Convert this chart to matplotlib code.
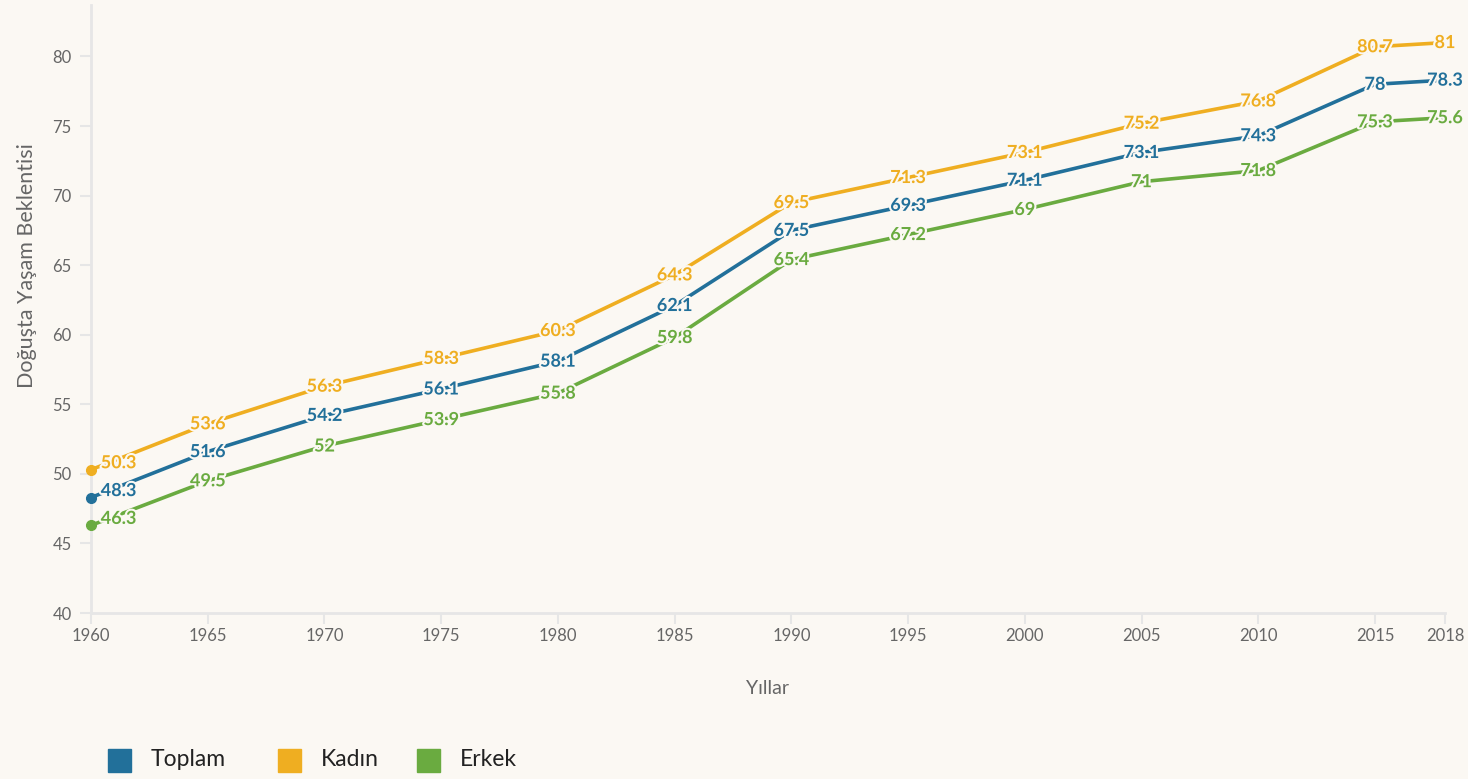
import matplotlib.pyplot as plt
import matplotlib.patheffects as pe
from matplotlib.patches import Rectangle

years = [1960, 1965, 1970, 1975, 1980, 1985, 1990, 1995, 2000, 2005, 2010, 2015, 2018]
toplam = [48.3, 51.6, 54.2, 56.1, 58.1, 62.1, 67.5, 69.3, 71.1, 73.1, 74.3, 78, 78.3]
kadin = [50.3, 53.6, 56.3, 58.3, 60.3, 64.3, 69.5, 71.3, 73.1, 75.2, 76.8, 80.7, 81]
erkek = [46.3, 49.5, 52, 53.9, 55.8, 59.8, 65.4, 67.2, 69, 71, 71.8, 75.3, 75.6]
names = ['Toplam', 'Kadın', 'Erkek']
colors = ['#22709a', '#efae21', '#6aab40']
xticks = [1960, 1965, 1970, 1975, 1980, 1985, 1990, 1995, 2000, 2005, 2010, 2015, 2018]
yticks = [40, 45, 50, 55, 60, 65, 70, 75, 80]

bg = '#fbf8f3'
plt.rcParams['font.family'] = ['Lato', 'DejaVu Sans']

fig = plt.figure(figsize=(14.68, 7.79), dpi=100, facecolor=bg)
ax = fig.add_axes([91 / 1468, 1 - 613 / 779, (1445 - 91) / 1468, (613 - 5) / 779])
ax.set_facecolor(bg)

series = [toplam, kadin, erkek]
for vals, c in zip(series, colors):
    ax.plot(years, vals, color=c, lw=2.6, zorder=3, solid_capstyle='round')
    ax.plot(years[0], vals[0], 'o', color=c, ms=7, zorder=4, clip_on=False)

halo = [pe.withStroke(linewidth=3, foreground=bg)]
for vals, c in zip(series, colors):
    for i, (x, v) in enumerate(zip(years, vals)):
        txt = f'{v:g}'
        if i == 0:
            ax.annotate(txt, (x, v), xytext=(7, 5), textcoords='offset points',
                        ha='left', va='center', color=c, fontsize=13,
                        fontweight='bold', path_effects=halo, zorder=6,
                        annotation_clip=False)
        else:
            ax.annotate(txt, (x, v), xytext=(0, 0), textcoords='offset points',
                        ha='center', va='center', color=c, fontsize=13,
                        fontweight='bold', path_effects=halo, zorder=6,
                        annotation_clip=False)

ax.set_xlim(1960, 2018)
ax.set_ylim(40, 83.7)
ax.set_xticks(xticks)
ax.set_yticks(yticks)
for s in ['top', 'right']:
    ax.spines[s].set_visible(False)
for s in ['left', 'bottom']:
    ax.spines[s].set_color('#e6e6e6')
    ax.spines[s].set_linewidth(2)
ax.tick_params(axis='both', colors='#e6e6e6', labelcolor='#666666',
               labelsize=12, width=1.5, length=8)
ax.tick_params(axis='x', pad=3)
ax.tick_params(axis='y', pad=6)

ax.set_xlabel('Yıllar', fontsize=14, color='#666666', labelpad=26)
ax.set_ylabel('Doğuşta Yaşam Beklentisi', fontsize=15.5, color='#666666', labelpad=10)
ax.yaxis.set_label_coords(-0.04, 0.572)

# legend
lx = [108, 278, 417]
for x0, name, c in zip(lx, names, colors):
    fig.patches.append(Rectangle((x0 / 1468, 1 - 772 / 779), 23 / 1468, 23 / 779,
                                 transform=fig.transFigure, color=c, figure=fig))
    fig.text((x0 + 43) / 1468, 1 - 760 / 779, name, fontsize=16.5, color='#222222',
             va='center', ha='left')

fig.savefig('out.png', dpi=100, facecolor=bg)
